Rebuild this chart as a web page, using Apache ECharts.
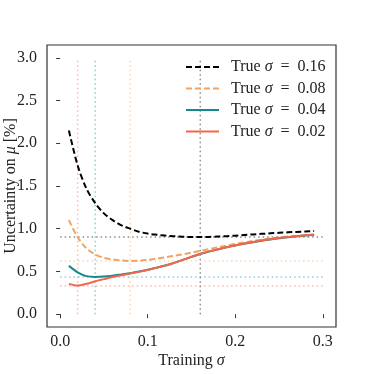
<!DOCTYPE html>
<html><head><meta charset="utf-8">
<script src="https://cdn.jsdelivr.net/npm/echarts@6/dist/echarts.min.js"></script>
<style>html,body{margin:0;padding:0;background:#fff}#c{width:374px;height:374px}</style>
</head><body><div id="c"></div>
<script>
const trainSigma = [0.01,0.02,0.03,0.04,0.05,0.06,0.07,0.08,0.09,0.10,0.11,0.12,0.13,0.14,0.15,0.16,0.17,0.18,0.19,0.20,0.21,0.22,0.23,0.24,0.25,0.26,0.27,0.28,0.29];
const unc016 = [2.15,1.74,1.47,1.30,1.18,1.10,1.04,1.00,0.965,0.943,0.93,0.92,0.912,0.906,0.903,0.902,0.904,0.908,0.913,0.919,0.926,0.933,0.94,0.946,0.952,0.958,0.963,0.968,0.973];
const unc008 = [1.10,0.90,0.77,0.70,0.66,0.64,0.628,0.623,0.625,0.635,0.65,0.665,0.683,0.70,0.72,0.74,0.762,0.783,0.803,0.822,0.84,0.857,0.872,0.886,0.898,0.908,0.916,0.923,0.929];
const unc004 = [0.565,0.49,0.445,0.436,0.44,0.45,0.465,0.48,0.50,0.52,0.545,0.57,0.60,0.635,0.67,0.705,0.733,0.758,0.782,0.804,0.824,0.843,0.86,0.875,0.888,0.9,0.911,0.92,0.928];
const unc002 = [0.355,0.335,0.355,0.385,0.41,0.435,0.455,0.475,0.495,0.518,0.543,0.568,0.60,0.635,0.672,0.707,0.735,0.76,0.784,0.806,0.826,0.845,0.862,0.877,0.89,0.902,0.913,0.923,0.932];
const trueSigmas = [0.16,0.08,0.04,0.02];
const minUnc = [0.903,0.623,0.436,0.33];
const sigmaLabels = ['0.16','0.08','0.04','0.02'];
const seriesNames = sigmaLabels.map(s=>'True σ = '+s);
const colors = ['#000000','#f4a261','#168a8a','#f3664b'];
const xTicks = [0,0.1,0.2,0.3];
const yTicks = [0,0.5,1.0,1.5,2.0,2.5,3.0];
const xSpan = [0,0.3];
const ySpan = [0,3.0];

const curves = [unc016,unc008,unc004,unc002];
const dashed = [true,true,false,false];
const series = [];
for (let i=0;i<4;i++){
  const style = {color:colors[i],width:1.5,type:[1.5,3],opacity:0.45};
  series.push({type:'line',data:[[xSpan[0],minUnc[i]],[xSpan[1],minUnc[i]]],symbol:'none',lineStyle:style,silent:true,z:1});
  series.push({type:'line',data:[[trueSigmas[i],ySpan[0]],[trueSigmas[i],ySpan[1]]],symbol:'none',lineStyle:style,silent:true,z:1});
}
for (let i=0;i<4;i++){
  series.push({name:seriesNames[i],type:'line',smooth:0.3,symbol:'none',z:3,
    data:trainSigma.map((x,j)=>[x,curves[i][j]]),
    lineStyle:{color:colors[i],width:2,type:dashed[i]?[6,3]:'solid'},itemStyle:{color:colors[i]}});
}
const font = 'Liberation Serif';
const fs = 16;
const rich = {t:{fontFamily:font,fontSize:fs,color:'#222'},i:{fontFamily:font,fontSize:fs,fontStyle:'italic',color:'#222'}};
const chart = echarts.init(document.getElementById('c'));
chart.setOption({
  animation:false,
  grid:{left:47,top:45,right:38,bottom:47,show:true,borderColor:'#333',borderWidth:1.2,backgroundColor:'transparent',outerBoundsMode:'none',containLabel:false},
  legend:{orient:'vertical',left:180,top:54,itemWidth:33,itemHeight:14,itemGap:5.5,
    itemStyle:{opacity:0,borderWidth:0},
    textStyle:{fontFamily:font,fontSize:fs,color:'#222',padding:[0,0,0,7],rich:rich},
    formatter:n=>{const k=seriesNames.indexOf(n);return '{t|True }{i|σ}{t|  =  '+sigmaLabels[k]+'}';},
    data:seriesNames},
  xAxis:{type:'value',min:-0.015,max:0.315,
    name:'{t|Training }{i|σ}',nameLocation:'middle',nameGap:26,nameMoveOverlap:false,nameTextStyle:{fontFamily:font,fontSize:fs,color:'#222',rich:rich},
    axisLine:{show:false},splitLine:{show:false},
    axisTick:{show:true,length:4,lineStyle:{color:'#333'},customValues:xTicks},
    axisLabel:{customValues:xTicks,formatter:v=>v.toFixed(1),fontFamily:font,fontSize:fs,color:'#222',margin:7}},
  yAxis:{type:'value',min:-0.15,max:3.15,
    name:'{t|Uncertainty on }{i|μ}{t| [%]}',nameLocation:'middle',nameGap:28,nameMoveOverlap:false,nameTextStyle:{fontFamily:font,fontSize:fs,color:'#222',rich:rich},
    axisLine:{show:false},splitLine:{show:false},
    axisTick:{show:true,length:4,lineStyle:{color:'#333'},customValues:yTicks},
    axisLabel:{customValues:yTicks,formatter:v=>v.toFixed(1),fontFamily:font,fontSize:fs,color:'#222',margin:10}},
  series:series
});
</script></body></html>
